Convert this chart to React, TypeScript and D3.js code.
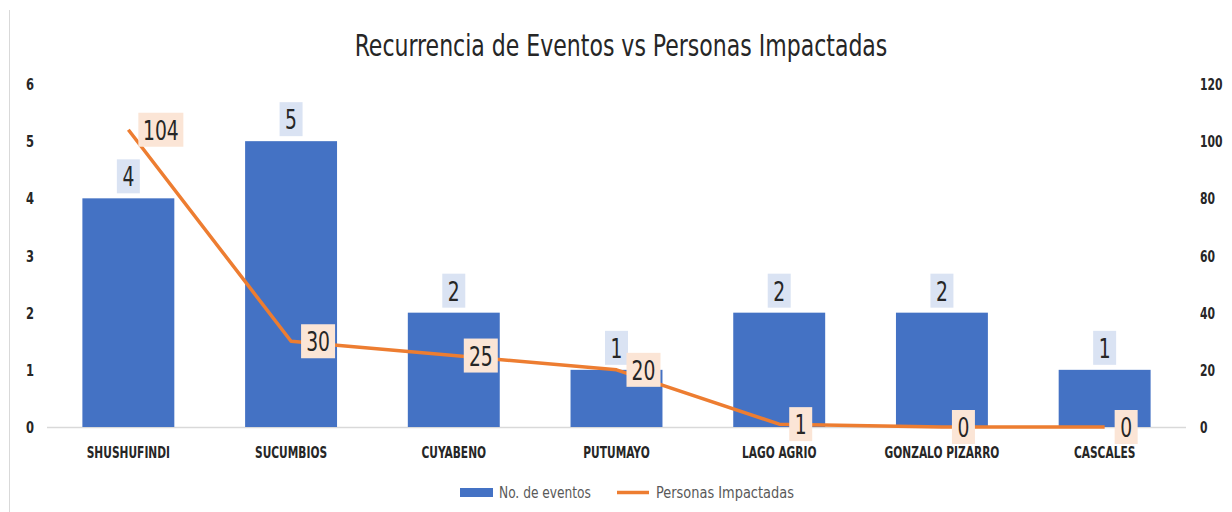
import * as d3 from "d3";

const categories = ["SHUSHUFINDI", "SUCUMBIOS", "CUYABENO", "PUTUMAYO", "LAGO AGRIO", "GONZALO PIZARRO", "CASCALES"];
const eventos = [4, 5, 2, 1, 2, 2, 1];
const personas = [104, 30, 25, 20, 1, 0, 0];
const leftTicks = [0, 1, 2, 3, 4, 5, 6];
const rightTicks = [0, 20, 40, 60, 80, 100, 120];

const width = 1232;
const height = 512;
const marginLeft = 47;
const marginRight = 46;
const marginTop = 84;
const marginBottom = 85;

const FONT = "'DejaVu Sans Condensed', 'Liberation Sans Narrow', sans-serif";
const BAR = "#4472c4";
const LINE = "#ed7d31";

// condensed text: squeeze horizontally around the anchor point
function CText(props: any) {
  const { x, y, sx = 0.8, children, ...rest } = props;
  return (
    <text transform={`translate(${x},${y}) scale(${sx},1)`} {...rest}>
      {children}
    </text>
  );
}

export default function App() {
  const x = d3
    .scaleBand()
    .domain(categories)
    .range([marginLeft, width - marginRight])
    .paddingInner(0.435)
    .paddingOuter(0.2175);
  const yLeft = d3.scaleLinear().domain([0, 6]).range([height - marginBottom, marginTop]);
  const yRight = d3.scaleLinear().domain([0, 120]).range([height - marginBottom, marginTop]);

  const cx = (c: string) => (x(c) ?? 0) + x.bandwidth() / 2;

  const line = d3
    .line<number>()
    .x((_, i) => cx(categories[i]))
    .y((d) => yRight(d));

  const boxW = (s: string) => s.length * 11 + 12;
  const boxH = 34;

  return (
    <svg width={width} height={height} style={{ position: "absolute", left: 0, top: 0 }} fontFamily={FONT}>
      <rect width={width} height={height} fill="#fff" />
      <line x1={9.5} x2={9.5} y1={10} y2={height} stroke="#d9d9d9" />

      <CText x={621} y={56} sx={0.79} textAnchor="middle" fontSize={31} fill="#262626">
        Recurrencia de Eventos vs Personas Impactadas
      </CText>

      {/* left axis */}
      {leftTicks.map((t) => (
        <CText key={"l" + t} x={34} y={yLeft(t) + 6} textAnchor="end" fontSize={16} fontWeight="bold" fill="#262626">
          {t}
        </CText>
      ))}
      {/* right axis */}
      {rightTicks.map((t) => (
        <CText key={"r" + t} x={1200} y={yRight(t) + 6} sx={0.75} textAnchor="start" fontSize={16} fontWeight="bold" fill="#262626">
          {t}
        </CText>
      ))}

      <line x1={marginLeft} x2={width - marginRight} y1={yLeft(0) + 0.5} y2={yLeft(0) + 0.5} stroke="#d9d9d9" strokeWidth={1.5} />

      {/* bars */}
      {categories.map((c, i) => (
        <rect key={c} x={x(c)} y={yLeft(eventos[i])} width={x.bandwidth()} height={yLeft(0) - yLeft(eventos[i])} fill={BAR} />
      ))}

      {/* category labels */}
      {categories.map((c) => (
        <CText key={"c" + c} x={cx(c)} y={458} sx={0.74} textAnchor="middle" fontSize={16} fontWeight="bold" fill="#262626">
          {c}
        </CText>
      ))}

      {/* bar labels */}
      {categories.map((c, i) => {
        const s = String(eventos[i]);
        const w = boxW(s);
        const top = yLeft(eventos[i]) - 5 - boxH;
        return (
          <g key={"bl" + c}>
            <rect x={cx(c) - w / 2} y={top} width={w} height={boxH} fill="#dae3f3" />
            <CText x={cx(c)} y={top + 27} sx={0.8} textAnchor="middle" fontSize={26} fill="#262626">
              {s}
            </CText>
          </g>
        );
      })}

      {/* line */}
      <path d={line(personas) ?? ""} fill="none" stroke={LINE} strokeWidth={3.5} strokeLinejoin="round" />

      {/* line labels */}
      {categories.map((c, i) => {
        const s = String(personas[i]);
        const w = boxW(s);
        const left = cx(c) + 10;
        const cy = yRight(personas[i]);
        return (
          <g key={"pl" + c}>
            <rect x={left} y={cy - boxH / 2} width={w} height={boxH} fill="#fbe5d6" />
            <CText x={left + w / 2} y={cy + 10} sx={0.8} textAnchor="middle" fontSize={26} fill="#262626">
              {s}
            </CText>
          </g>
        );
      })}

      {/* legend */}
      <rect x={460} y={488} width={33} height={9} fill={BAR} />
      <CText x={499} y={498} sx={0.85} fontSize={16} fill="#595959">
        No. de eventos
      </CText>
      <line x1={617} x2={649} y1={492.5} y2={492.5} stroke={LINE} strokeWidth={3.5} />
      <CText x={656} y={498} sx={0.9} fontSize={16} fill="#595959">
        Personas Impactadas
      </CText>
    </svg>
  );
}
